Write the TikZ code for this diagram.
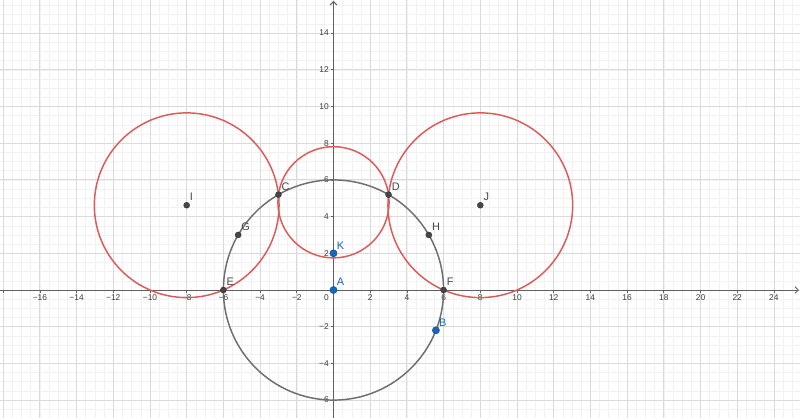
\documentclass[tikz,border=0pt]{standalone}
\usepackage{fontspec}
\setmainfont{Liberation Sans}
\usetikzlibrary{arrows.meta}
\definecolor{gridmajor}{RGB}{218,218,218}
\definecolor{gridminor}{RGB}{242,242,242}
\definecolor{axiscol}{RGB}{95,95,95}
\definecolor{redc}{RGB}{222,90,90}
\definecolor{grayc}{RGB}{110,110,110}
\definecolor{ptdark}{RGB}{70,70,70}
\definecolor{ptblue}{RGB}{21,101,192}
\definecolor{ticklab}{RGB}{60,60,60}
\begin{document}
\begin{tikzpicture}[x=13.7625pt,y=13.7625pt,
 pt/.style={circle,fill=ptdark,draw=ptdark!70!black,line width=0.3pt,minimum size=4.5pt,inner sep=0pt},
 bpt/.style={circle,fill=ptblue,draw=ptblue!70!black,line width=0.3pt,minimum size=5.4pt,inner sep=0pt},
 lab/.style={anchor=south west,inner sep=0pt,font=\fontsize{8.2}{9}\selectfont,text=ptdark,xshift=2.25pt,yshift=3pt},
 blab/.style={lab,text=ptblue},
 xlab/.style={anchor=north,inner sep=0pt,font=\fontsize{6.3}{7}\selectfont,text=ticklab,yshift=-3.3pt},
 ylab/.style={anchor=east,inner sep=0pt,font=\fontsize{6.3}{7}\selectfont,text=ticklab,xshift=-3.4pt},
 olab/.style={anchor=north east,inner sep=0pt,font=\fontsize{6.3}{7}\selectfont,text=ticklab,xshift=-3.4pt,yshift=-3.3pt},
 redcirc/.style={draw=redc,line width=1.1pt},
 graycirc/.style={draw=grayc,line width=1.1pt},
 axisline/.style={draw=axiscol,line width=0.7pt,-{Straight Barb[length=2.5pt,width=5pt]}}]
\useasboundingbox (-18.174,-6.975) rectangle (25.422,15.804);
\fill[white] (-18.174,-6.975) rectangle (25.422,15.804);
\begin{scope}
\clip (-18.174,-6.975) rectangle (25.422,15.804);
\draw[gridminor,line width=0.4pt,step=0.5] (-18.5,-7.5) grid (25.5,16);
\draw[gridmajor,line width=0.6pt,step=2] (-18.5,-7.5) grid (25.5,16);
\end{scope}
% axes
\coordinate (xs) at (-18.174,0);
\coordinate (xe) at (25.36,0);
\coordinate (ys) at (0,-6.975);
\coordinate (ye) at (0,15.75);
\draw[axisline] (xs) -- (xe);
\draw[axisline] (ys) -- (ye);
\foreach \x in {-18,-16,...,24} \draw[axiscol,line width=0.5pt] (\x,0) -- ++(0,-2pt);
\foreach \y in {-6,-4,...,14} \draw[axiscol,line width=0.5pt] (0,\y) -- ++(-2pt,0);
% tick labels
\foreach \x/\t in {-16/−16,-14/−14,-12/−12,-10/−10,-8/−8,-6/−6,-4/−4,-2/−2,2/2,4/4,6/6,8/8,10/10,12/12,14/14,16/16,18/18,20/20,22/22,24/24}
  \node[xlab] (xl\x) at (\x,0) {\t};
\foreach \y/\t in {-6/−6,-4/−4,-2/−2,2/2,4/4,6/6,8/8,10/10,12/12,14/14}
  \node[ylab] (yl\y) at (0,\y) {\t};
\node[olab] (ol) at (0,0) {0};
% circles
\draw[graycirc] (0,0) circle (6);
\draw[redcirc] (-8,4.6188) circle (5.0332);
\draw[redcirc] (8,4.6188) circle (5.0332);
\draw[redcirc] (0,4.78) circle (3.03);
% points
\node[pt] (C) at (-3,5.196) {};
\node[pt] (D) at (3,5.196) {};
\node[pt] (E) at (-6,0) {};
\node[pt] (F) at (6,0) {};
\node[pt] (G) at (-5.196,3) {};
\node[pt] (H) at (5.196,3) {};
\node[pt] (I) at (-8,4.6188) {};
\node[pt] (J) at (8,4.6188) {};
\node[bpt] (A) at (0,0) {};
\node[bpt] (K) at (0,2) {};
\node[bpt] (B) at (5.582,-2.199) {};
% labels
\node[lab] (lC) at (C.center) {C};
\node[lab] (lD) at (D.center) {D};
\node[lab] (lE) at (E.center) {E};
\node[lab] (lF) at (F.center) {F};
\node[lab] (lG) at (G.center) {G};
\node[lab] (lH) at (H.center) {H};
\node[lab] (lI) at (I.center) {I};
\node[lab] (lJ) at (J.center) {J};
\node[blab] (lA) at (A.center) {A};
\node[blab] (lK) at (K.center) {K};
\node[blab] (lB) at (B.center) {B};
\end{tikzpicture}
\end{document}
